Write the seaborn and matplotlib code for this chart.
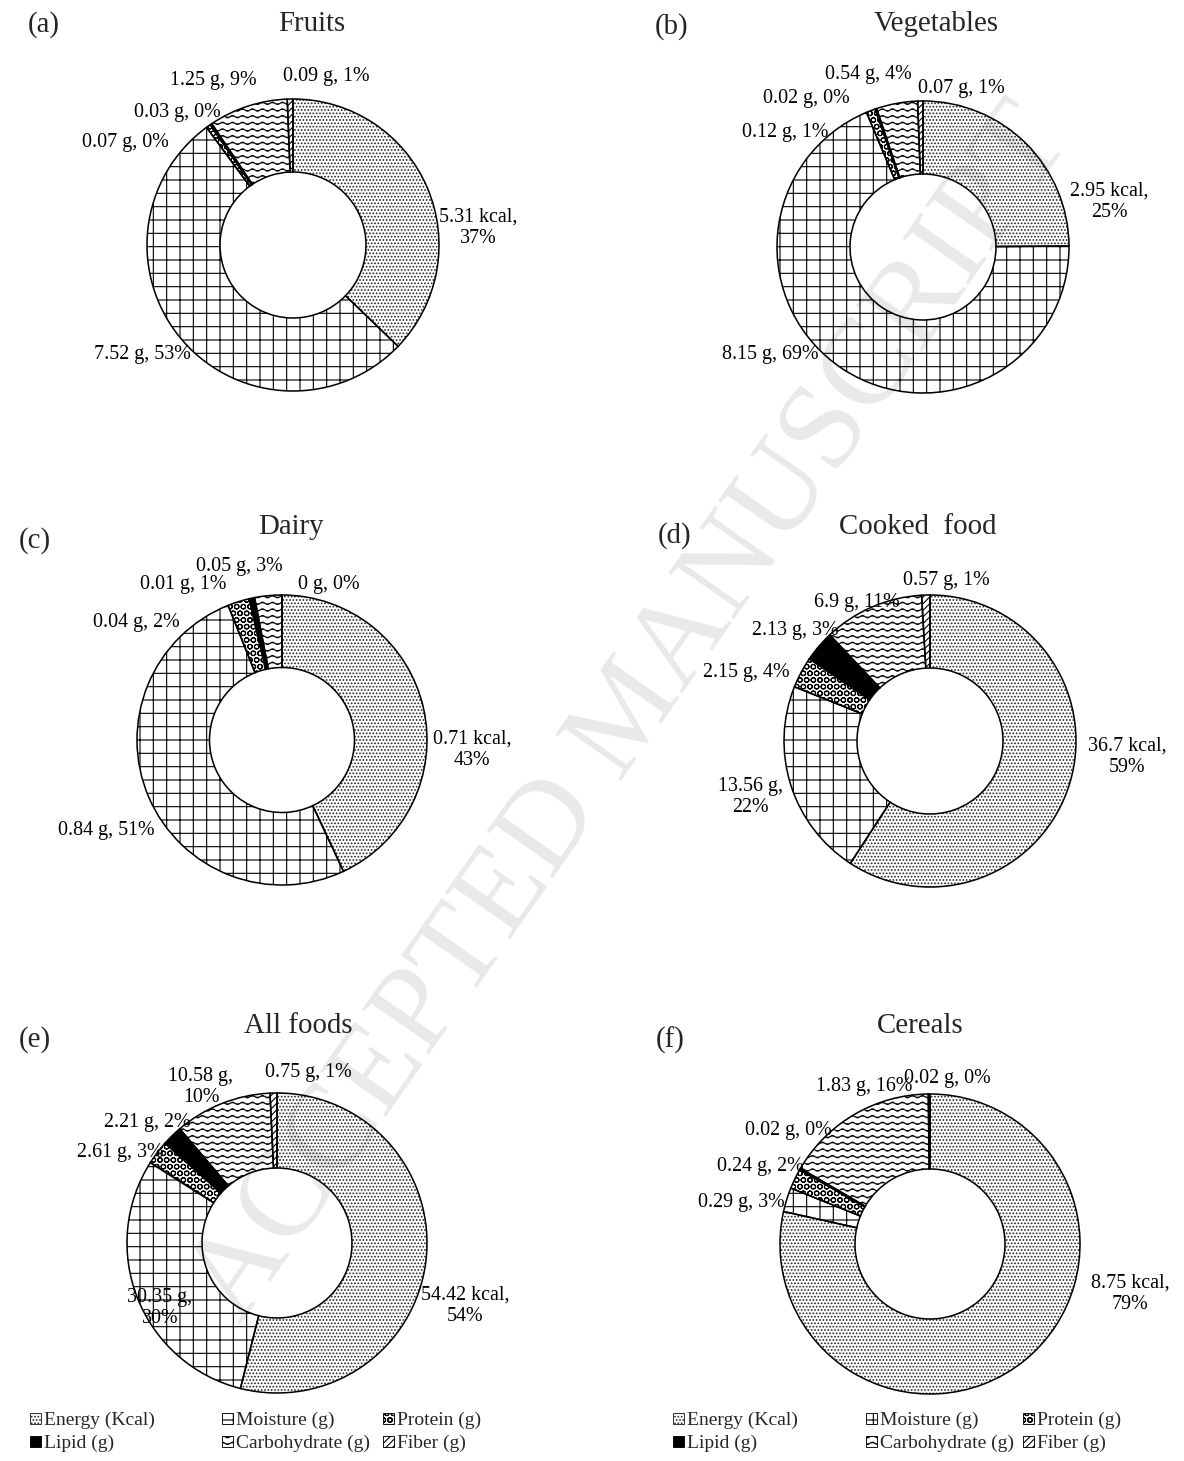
import numpy as np
import matplotlib
matplotlib.use("Agg")
import matplotlib.pyplot as plt
import matplotlib.patches as mpatches
import matplotlib.hatch as mhatch
from matplotlib.path import Path
import seaborn as sns

W, H, DPI = 1184, 1461, 80

# ---- data -------------------------------------------------------------
components = ["Energy (Kcal)", "Moisture (g)", "Protein (g)",
              "Lipid (g)", "Carbohydrate (g)", "Fiber (g)"]
units = ["kcal", "g", "g", "g", "g", "g"]

fruits = [5.31, 7.52, 0.07, 0.03, 1.25, 0.09]
fruits_pct = [37, 53, 0, 0, 9, 1]
vegetables = [2.95, 8.15, 0.12, 0.02, 0.54, 0.07]
vegetables_pct = [25, 69, 1, 0, 4, 1]
dairy = [0.71, 0.84, 0.04, 0.01, 0.05, 0]
dairy_pct = [43, 51, 2, 1, 3, 0]
cooked = [36.7, 13.56, 2.15, 2.13, 6.9, 0.57]
cooked_pct = [59, 22, 4, 3, 11, 1]
all_foods = [54.42, 30.35, 2.61, 2.21, 10.58, 0.75]
all_foods_pct = [54, 30, 3, 2, 10, 1]
cereals = [8.75, 0.29, 0.24, 0.02, 1.83, 0.02]
cereals_pct = [79, 3, 2, 0, 16, 0]

panel_letters = ["(a)", "(b)", "(c)", "(d)", "(e)", "(f)"]
panel_titles = ["Fruits", "Vegetables", "Dairy", "Cooked  food", "All foods", "Cereals"]
panel_values = [fruits, vegetables, dairy, cooked, all_foods, cereals]
panel_pcts = [fruits_pct, vegetables_pct, dairy_pct, cooked_pct, all_foods_pct, cereals_pct]

# ---- layout (pixels) --------------------------------------------------
centers = [(293, 245), (923, 247), (282, 740), (930, 741), (277, 1243), (930, 1244)]
radii = [146, 146, 145, 146, 150, 150]
letter_xy = [(44, 25), (672, 27), (35, 541), (675, 536), (35, 1040), (670, 1040)]
title_xy = [(312, 24), (936, 24), (291, 527), (918, 527), (298, 1026), (920, 1026)]
label_xy = [
    [(478, 228), (142, 355), (125, 143), (177, 112), (213, 80), (326, 77)],
    [(1109, 202), (770, 355), (785, 132), (806, 98), (868, 75), (961, 89)],
    [(472, 750), (106, 830), (136, 623), (183, 585), (239, 566), (329, 585)],
    [(1127, 757), (750, 797), (746, 672), (795, 630), (857, 602), (946, 580)],
    [(465, 1306), (160, 1308), (120, 1152), (147, 1123), (201, 1087), (308, 1073)],
    [(1130, 1294), (741, 1203), (760, 1167), (788, 1130), (864, 1087), (947, 1078)],
]
wrapped = [{0}, {0}, {0}, {0, 1}, {0, 1, 4}, {0}]
legend_cols = [[30, 222, 383], [673, 866, 1023]]
legend_top = 1412


# Excel's wavy fill has no matplotlib hatch; '*' (stars) is unused here,
# so its slot is taken by wavy horizontal lines.
class WaveHatch(mhatch.HatchPatternBase):
    waves = 8
    amp = 0.015

    def __init__(self, hatch, density):
        self.num_lines = hatch.count('*') * density
        self.pts = self.waves * 8 + 1
        self.num_vertices = self.num_lines * self.pts

    def set_vertices_and_codes(self, vertices, codes):
        x = np.linspace(0, 1, self.pts)
        for i in range(self.num_lines):
            y = (i + 0.5) / self.num_lines
            sl = slice(i * self.pts, (i + 1) * self.pts)
            vertices[sl, 0] = x
            vertices[sl, 1] = y + self.amp * np.sin(2 * np.pi * self.waves * x)
            codes[sl] = Path.LINETO
            codes[i * self.pts] = Path.MOVETO


mhatch._hatch_types[mhatch._hatch_types.index(mhatch.Stars)] = WaveHatch

# face colour, hatch, hatch colour for each component
styles = [
    ("white", "....", "#222222"),
    ("white", "+", "black"),
    ("white", "OO", "black"),
    ("black", None, "black"),
    ("white", "**", "black"),
    ("white", "////", "black"),
]

sns.set_theme(style="white")
plt.rcParams["font.family"] = ["Liberation Serif", "DejaVu Serif"]
plt.rcParams["hatch.linewidth"] = 1.0

fig = plt.figure(figsize=(W / DPI, H / DPI), dpi=DPI, facecolor="white")

for k in range(6):
    cx, cy = centers[k]
    R = radii[k]
    ax = fig.add_axes([(cx - R) / W, (H - cy - R) / H, 2 * R / W, 2 * R / H])
    vals = panel_values[k]

    wedges, _ = ax.pie(vals, startangle=90, counterclock=False, radius=1,
                       colors=[s[0] for s in styles],
                       wedgeprops=dict(width=0.5, linewidth=0))
    for w, (fc, hatch, hc) in zip(wedges, styles):
        w.set_edgecolor(hc)
        w.set_hatch(hatch)
    # black outlines on top
    ax.pie(vals, startangle=90, counterclock=False, radius=1,
           wedgeprops=dict(width=0.5, fill=False, edgecolor="black", linewidth=1.4))
    ax.set_xlim(-1, 1)
    ax.set_ylim(-1, 1)
    ax.axis("off")

    for i, v in enumerate(vals):
        sep = ",\n" if i in wrapped[k] else ", "
        txt = f"{v:g} {units[i]}{sep}{panel_pcts[k][i]}%"
        px, py = label_xy[k][i]
        ax.text((px - cx) / R, (cy - py) / R, txt, ha="center", va="center",
                multialignment="center", fontsize=18, color="black")

    lx, ly = letter_xy[k]
    fig.text(lx / W, 1 - ly / H, panel_letters[k], ha="center", va="center", fontsize=26)
    tx, ty = title_xy[k]
    fig.text(tx / W, 1 - ty / H, panel_titles[k], ha="center", va="center", fontsize=26)

# legends under (e) and (f), one small legend per column, Excel order row-wise
handles = [mpatches.Patch(facecolor=fc, hatch=h, edgecolor=hc if h else "black",
                          linewidth=0.8)
           for fc, h, hc in styles]
for xs in legend_cols:
    for c, x in enumerate(xs):
        idx = [c, c + 3]
        fig.legend([handles[i] for i in idx], [components[i] for i in idx],
                   loc="upper left", bbox_to_anchor=(x / W, 1 - legend_top / H),
                   frameon=False, fontsize=17.5, handlelength=0.55, handleheight=0.55,
                   handletextpad=0.15, labelspacing=0.3, borderpad=0, borderaxespad=0)

# journal watermark
fig.text(632 / W, 1 - 715 / H, "ACCEPTED MANUSCRIPT", rotation=55, ha="center",
         va="center", rotation_mode="anchor", fontsize=110, color="black", alpha=0.09,
         zorder=10)

fig.savefig("out.png", dpi=DPI, facecolor="white")
